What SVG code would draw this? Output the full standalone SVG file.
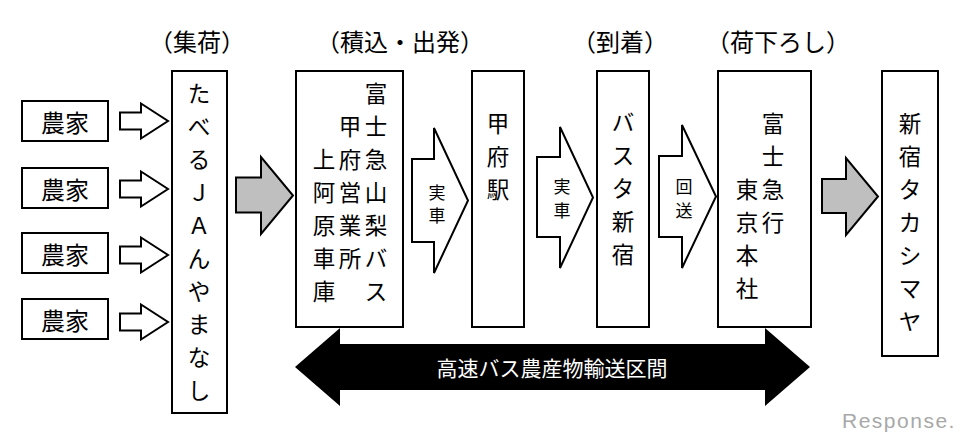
<svg xmlns="http://www.w3.org/2000/svg" width="968" height="434" viewBox="0 0 968 434">
<style>
text{font-family:"Noto Sans CJK JP","Noto Sans CJK SC",sans-serif;fill:#000;text-anchor:middle;dominant-baseline:central}
.hd{font-size:24px}
.fm{font-size:24px}
.nd{font-size:22.5px}
.sm{font-size:17px}
.box{fill:#fff;stroke:#000;stroke-width:2}
.ha{fill:#fff;stroke:#000;stroke-width:2;stroke-linejoin:miter}
.ga{fill:#bfbfbf;stroke:#000;stroke-width:2}
.ba{fill:#000}
.wt{fill:#fff;font-size:21px}
.logo{font-family:"Liberation Sans",Arial,sans-serif;font-size:21px;fill:#a8a8a8;text-anchor:start;letter-spacing:1.5px}
</style>
<rect width="968" height="434" fill="#fff"/>
<g id="headers">
<text class="hd" x="197" y="40">（集荷）</text>
<text class="hd" x="400" y="40">（積込・出発）</text>
<text class="hd" x="620" y="40">（到着）</text>
<text class="hd" x="778" y="40">（荷下ろし）</text>
</g>
<g id="farmer1"><rect class="box" x="22" y="101" width="86" height="40"/><text class="fm" x="65" y="121">農家</text></g>
<g id="farmer2"><rect class="box" x="22" y="168" width="86" height="40"/><text class="fm" x="65" y="188">農家</text></g>
<g id="farmer3"><rect class="box" x="22" y="233" width="86" height="40"/><text class="fm" x="65" y="253">農家</text></g>
<g id="farmer4"><rect class="box" x="22" y="299" width="86" height="40"/><text class="fm" x="65" y="319">農家</text></g>
<g id="ja">
<rect class="box" x="172" y="71" width="55" height="342"/>
<text class="nd"><tspan x="199" y="92">た</tspan><tspan x="199" y="125">べ</tspan><tspan x="199" y="158">る</tspan><tspan x="199" y="191">Ｊ</tspan><tspan x="199" y="224">Ａ</tspan><tspan x="199" y="257">ん</tspan><tspan x="199" y="290">や</tspan><tspan x="199" y="323">ま</tspan><tspan x="199" y="356">な</tspan><tspan x="199" y="389">し</tspan></text>
</g>
<g id="kofu-office">
<rect class="box" x="296" y="71" width="107" height="256"/>
<text class="nd"><tspan x="376" y="92">富</tspan><tspan x="376" y="125">士</tspan><tspan x="376" y="158">急</tspan><tspan x="376" y="191">山</tspan><tspan x="376" y="224">梨</tspan><tspan x="376" y="257">バ</tspan><tspan x="376" y="290">ス</tspan></text>
<text class="nd"><tspan x="350" y="125">甲</tspan><tspan x="350" y="158">府</tspan><tspan x="350" y="191">営</tspan><tspan x="350" y="224">業</tspan><tspan x="350" y="257">所</tspan></text>
<text class="nd"><tspan x="324" y="158">上</tspan><tspan x="324" y="191">阿</tspan><tspan x="324" y="224">原</tspan><tspan x="324" y="257">車</tspan><tspan x="324" y="290">庫</tspan></text>
</g>
<g id="kofu-station">
<rect class="box" x="472" y="71" width="52" height="256"/>
<text class="nd"><tspan x="498" y="122">甲</tspan><tspan x="498" y="155">府</tspan><tspan x="498" y="188">駅</tspan></text>
</g>
<g id="busta">
<rect class="box" x="597" y="71" width="52" height="256"/>
<text class="nd"><tspan x="623" y="121">バ</tspan><tspan x="623" y="154">ス</tspan><tspan x="623" y="187">タ</tspan><tspan x="623" y="220">新</tspan><tspan x="623" y="253">宿</tspan></text>
</g>
<g id="fujikyu-hq">
<rect class="box" x="718" y="71" width="93" height="256"/>
<text class="nd"><tspan x="773" y="122">富</tspan><tspan x="773" y="155">士</tspan><tspan x="773" y="188">急</tspan><tspan x="773" y="221">行</tspan></text>
<text class="nd"><tspan x="747" y="188">東</tspan><tspan x="747" y="221">京</tspan><tspan x="747" y="254">本</tspan><tspan x="747" y="287">社</tspan></text>
</g>
<g id="takashimaya">
<rect class="box" x="882" y="71" width="56" height="285"/>
<text class="nd"><tspan x="910" y="122">新</tspan><tspan x="910" y="155">宿</tspan><tspan x="910" y="188">タ</tspan><tspan x="910" y="221">カ</tspan><tspan x="910" y="254">シ</tspan><tspan x="910" y="287">マ</tspan><tspan x="910" y="320">ヤ</tspan></text>
</g>
<g id="connectors">
<path class="ha" d="M120,112.5H141V103.5L168,121L141,138.5V129.5H120Z"/>
<path class="ha" d="M120,180.5H141V171.5L168,189L141,206.5V197.5H120Z"/>
<path class="ha" d="M120,246.5H141V237.5L168,255L141,272.5V263.5H120Z"/>
<path class="ha" d="M120,313.5H141V304.5L168,322L141,339.5V330.5H120Z"/>
<path class="ga" d="M236,177.5H261V157L293,195.5L261,234V212.5H236Z"/>
<path class="ga" d="M822,179H846V158L878,196.5L846,235V213H822Z"/>
<path class="ha" d="M412,159H434V128L468,200.5L434,273V242H412Z"/>
<path class="ha" d="M537,157H560V127L593,197.5L560,268V237H537Z"/>
<path class="ha" d="M659,156H682V125L716,196.5L682,268V237H659Z"/>
<text class="sm" x="437" y="191">実</text><text class="sm" x="437" y="214">車</text>
<text class="sm" x="562" y="185">実</text><text class="sm" x="562" y="209">車</text>
<text class="sm" x="684" y="185">回</text><text class="sm" x="684" y="209">送</text>
<path class="ba" d="M295,367L340,328V344H765V328L810,367L765,406V390H340V406Z"/>
<text class="wt" x="552" y="367">高速バス農産物輸送区間</text>
</g>
<text class="logo" x="842" y="420">Response.</text>
</svg>
